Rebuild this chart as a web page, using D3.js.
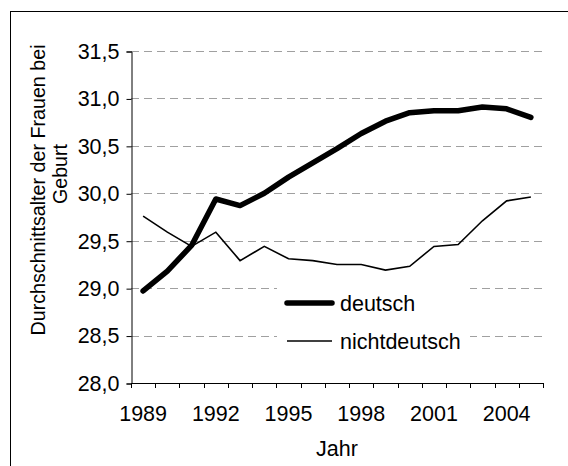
<!DOCTYPE html>
<html>
<head>
<meta charset="utf-8">
<script src="https://cdn.jsdelivr.net/npm/d3@7/dist/d3.min.js"></script>
<style>
  html, body { margin: 0; padding: 0; background: #fff; }
  svg { display: block; }
  text { font-family: "Liberation Sans", Arial, sans-serif; fill: #000; }
</style>
</head>
<body>
<svg id="chart" width="568" height="466"></svg>
<script>
const years = [1989,1990,1991,1992,1993,1994,1995,1996,1997,1998,1999,2000,2001,2002,2003,2004,2005];
const deutsch = [28.97,29.18,29.45,29.94,29.87,30.00,30.17,30.32,30.47,30.63,30.76,30.85,30.87,30.87,30.91,30.89,30.80];
const nichtdeutsch = [29.76,29.59,29.44,29.59,29.29,29.44,29.31,29.29,29.25,29.25,29.19,29.23,29.44,29.46,29.71,29.92,29.96];
const yTicks = [28.0,28.5,29.0,29.5,30.0,30.5,31.0,31.5];
const xLabelYears = [1989,1992,1995,1998,2001,2004];
const seriesNames = ["deutsch","nichtdeutsch"];

(function () {
const svg = d3.select("#chart");
const pLeft = 131, pRight = 543, pTop = 51, pBottom = 383;
const FS = 21.5, TFS = 19.7;
const fmt = d => d3.format(".1f")(d).replace(".", ",");

// outer frame
svg.append("rect").attr("x", 10.5).attr("y", 11.5).attr("width", 600).attr("height", 500)
  .attr("fill", "none").attr("stroke", "#000").attr("stroke-width", 1);

const x = d3.scaleBand().domain(years).range([pLeft, pRight]).padding(0);
const y = d3.scaleLinear().domain([28, 31.5]).range([pBottom, pTop]);

// gridlines
svg.append("g").selectAll("line").data(yTicks.filter(d => d > 28)).join("line")
  .attr("x1", pLeft).attr("x2", pRight)
  .attr("y1", d => Math.round(y(d)) + 0.5).attr("y2", d => Math.round(y(d)) + 0.5)
  .attr("stroke", "#a0a0a0").attr("stroke-width", 1).attr("stroke-dasharray", "8,5");

// y axis
const yAxis = d3.axisLeft(y).tickValues(yTicks).tickFormat(fmt).tickSize(5).tickPadding(7);
const gy = svg.append("g").attr("transform", `translate(${pLeft + 0.5},0.5)`).call(yAxis);
gy.select(".domain").attr("stroke", "#000");
gy.selectAll(".tick line").attr("stroke", "#000");
gy.selectAll("text").attr("font-size", FS).style("font-family", '"Liberation Sans", Arial, sans-serif');

// x axis: labels centred in categories, ticks between categories
const xAxis = d3.axisBottom(x).tickValues(xLabelYears).tickSize(0).tickPadding(22);
const gx = svg.append("g").attr("transform", `translate(0,${pBottom + 0.5})`).call(xAxis);
gx.select(".domain").remove();
gx.selectAll("text").attr("font-size", FS).style("font-family", '"Liberation Sans", Arial, sans-serif');
svg.append("line").attr("x1", pLeft).attr("x2", pRight + 0.5)
  .attr("y1", pBottom + 0.5).attr("y2", pBottom + 0.5).attr("stroke", "#000");
svg.append("g").selectAll("line").data(years.map(d => x(d)).concat([x(years[years.length-1]) + x.bandwidth()])).join("line")
  .attr("x1", d => Math.round(d) + 0.5).attr("x2", d => Math.round(d) + 0.5)
  .attr("y1", pBottom).attr("y2", pBottom + 5).attr("stroke", "#000");

// axis titles
svg.append("text").attr("x", 337).attr("y", 456).attr("text-anchor", "middle")
  .attr("font-size", FS).text("Jahr");
svg.append("text").attr("transform", "translate(45,190) rotate(-90)").attr("text-anchor", "middle")
  .attr("font-size", TFS).text("Durchschnittsalter der Frauen bei");
svg.append("text").attr("transform", "translate(67,174) rotate(-90)").attr("text-anchor", "middle")
  .attr("font-size", TFS).text("Geburt");

// lines
const line = d3.line().x((d, i) => x(years[i]) + x.bandwidth() / 2).y(d => y(d));
svg.append("path").datum(nichtdeutsch).attr("d", line)
  .attr("fill", "none").attr("stroke", "#000").attr("stroke-width", 1.6).attr("stroke-linejoin", "miter");
svg.append("path").datum(deutsch).attr("d", line)
  .attr("fill", "none").attr("stroke", "#000").attr("stroke-width", 5.5)
  .attr("stroke-linejoin", "round").attr("stroke-linecap", "round");

// legend
const lg = svg.append("g");
lg.append("rect").attr("x", 277).attr("y", 282).attr("width", 193).attr("height", 74).attr("fill", "#fff");
const legendY = [303, 341];
const widths = [5.5, 1.6];
seriesNames.forEach((name, i) => {
  lg.append("line").attr("x1", 287).attr("x2", 332).attr("y1", legendY[i]).attr("y2", legendY[i])
    .attr("stroke", "#000").attr("stroke-width", widths[i]).attr("stroke-linecap", i === 0 ? "round" : "butt");
  lg.append("text").attr("x", 340).attr("y", legendY[i]).attr("dy", "0.35em")
    .attr("font-size", FS).text(name);
});
})();
</script>
</body>
</html>
